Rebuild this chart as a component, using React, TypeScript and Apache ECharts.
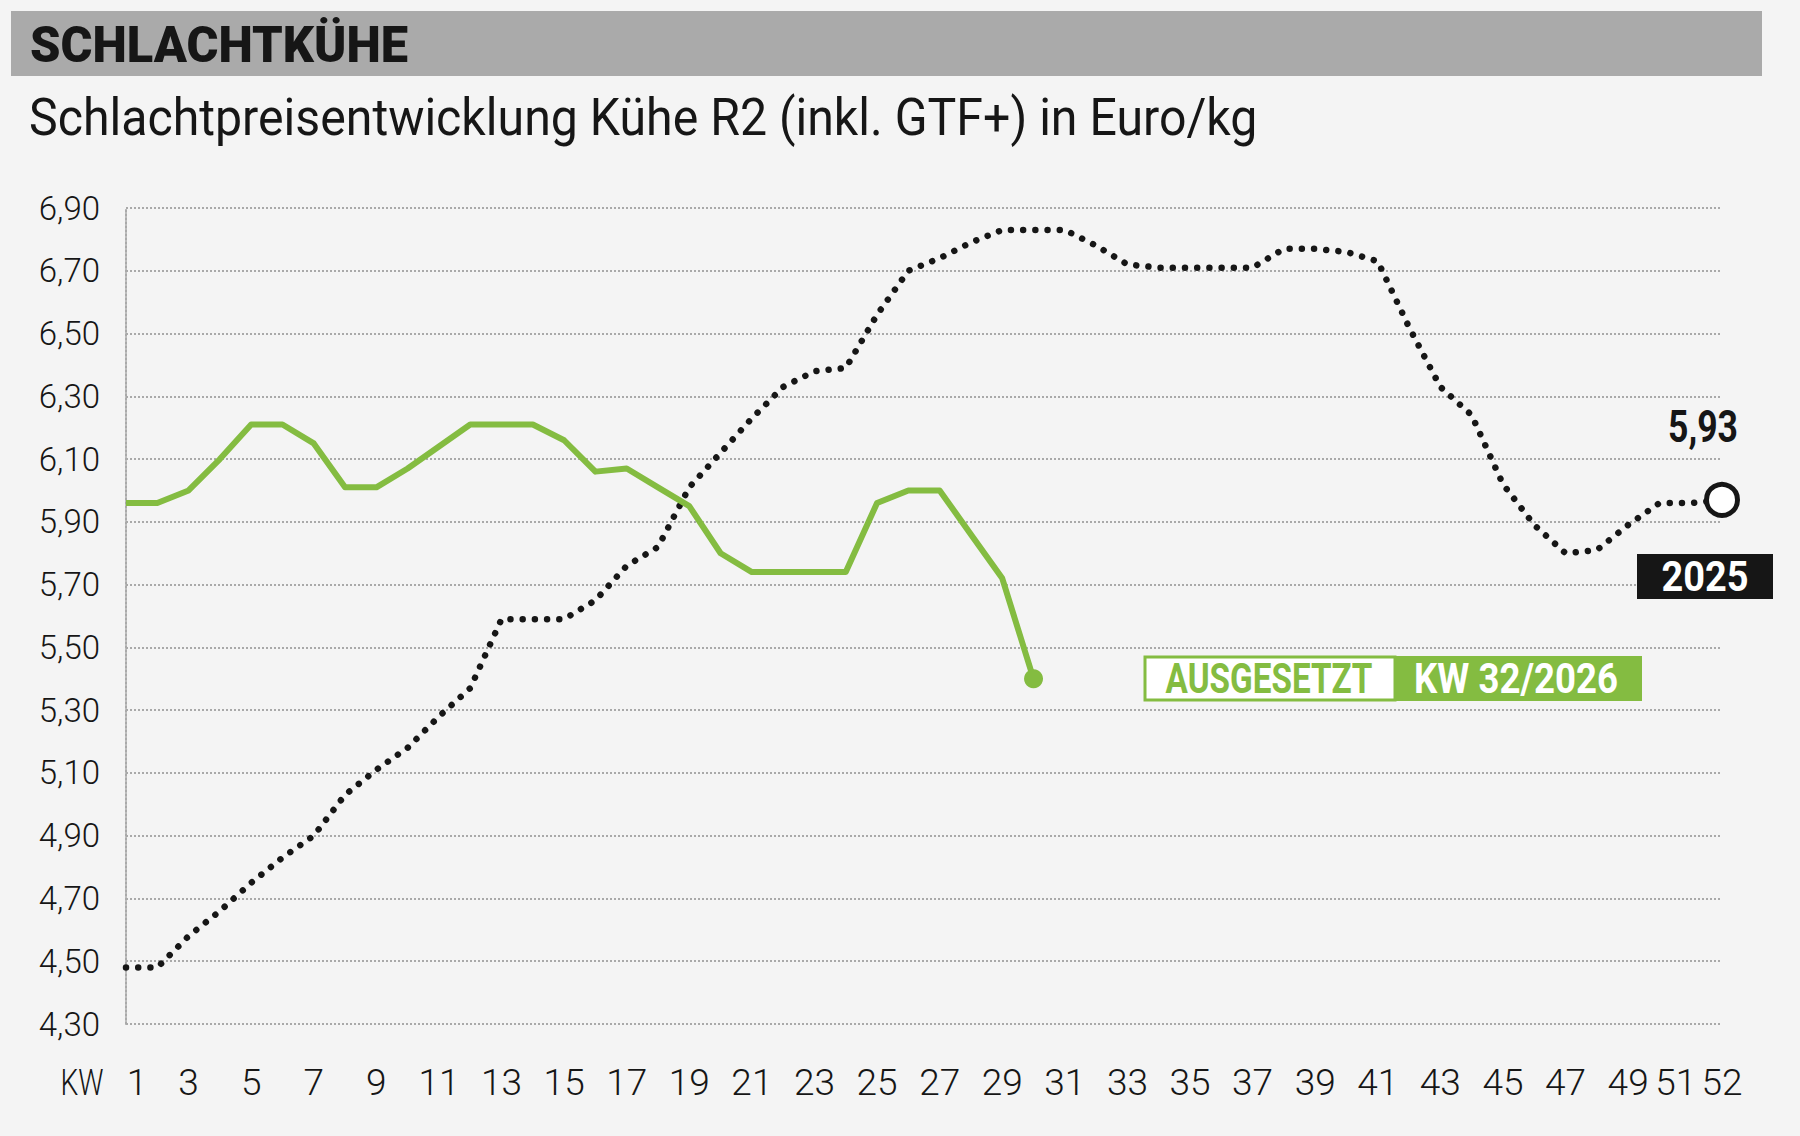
import React, { useEffect, useRef } from "react";
import * as echarts from "echarts";

// ---------- data ----------
const weeks = [
  "1", "2", "3", "4", "5", "6", "7", "8", "9", "10", "11", "12", "13",
  "14", "15", "16", "17", "18", "19", "20", "21", "22", "23", "24", "25", "26",
  "27", "28", "29", "30", "31", "32", "33", "34", "35", "36", "37", "38", "39",
  "40", "41", "42", "43", "44", "45", "46", "47", "48", "49", "50", "51", "52",
];
const xTickLabels = [
  "1", "3", "5", "7", "9", "11", "13", "15", "17", "19", "21", "23", "25",
  "27", "29", "31", "33", "35", "37", "39", "41", "43", "45", "47", "49", "51", "52",
];
// Schlachtpreis Kühe R2 2025 (dotted)
const prices2025 = [
  4.48, 4.48, 4.58, 4.66, 4.75, 4.83, 4.9, 5.03, 5.11, 5.18, 5.28, 5.37, 5.59,
  5.59, 5.59, 5.65, 5.76, 5.82, 6.01, 6.12, 6.23, 6.33, 6.38, 6.39, 6.56, 6.7,
  6.74, 6.79, 6.83, 6.83, 6.83, 6.78, 6.72, 6.71, 6.71, 6.71, 6.71, 6.77, 6.77,
  6.76, 6.73, 6.52, 6.33, 6.24, 6.02, 5.89, 5.8, 5.81, 5.89, 5.96, 5.96, 5.97,
];
// Schlachtpreis Kühe R2 2026 (green)
const prices2026 = [
  5.96, 5.96, 6.0, 6.1, 6.21, 6.21, 6.15, 6.01, 6.01, 6.07, 6.14, 6.21, 6.21,
  6.21, 6.16, 6.06, 6.07, 6.01, 5.95, 5.8, 5.74, 5.74, 5.74, 5.74, 5.96, 6.0,
  6.0, 5.86, 5.72, 5.4,
];
const yMin = 4.3;
const yMax = 6.9;
const yStep = 0.2;

const headerText = "SCHLACHTKÜHE";
const titleText = "Schlachtpreisentwicklung Kühe R2 (inkl. GTF+) in Euro/kg";
const lastValueText = "5,93";
const yearText = "2025";
const suspendedText = "AUSGESETZT";
const suspendedWeekText = "KW 32/2026";
const xAxisTitle = "KW";

// ---------- style ----------
const GREEN = "#84bc41";
const INK = "#161616";
const BG = "#f4f4f4";
const GRIDGRAY = "#a9a9a9";
const FONT = "Roboto, 'Noto Sans', 'DejaVu Sans', sans-serif";
const XFS = 37;

function measure(text: string, font: string): number {
  const ctx = document.createElement("canvas").getContext("2d");
  if (!ctx) return text.length * 20;
  ctx.font = font;
  return ctx.measureText(text).width;
}

function fitText(
  text: string,
  cx: number,
  cy: number,
  width: number,
  fontSize: number,
  fontWeight: string,
  fill: string,
  align: "left" | "center" = "center"
) {
  const w = measure(text, `${fontWeight} ${fontSize}px Roboto`);
  const s = width / w;
  return {
    type: "text",
    x: cx,
    y: cy,
    scaleX: s,
    z: 20,
    style: {
      text,
      fill,
      fontSize,
      fontWeight,
      fontFamily: FONT,
      align,
      verticalAlign: "middle",
    },
  };
}

const labelRich = (padding: number[]) => ({
  fontSize: XFS,
  fontWeight: 300,
  fontFamily: FONT,
  color: INK,
  padding,
});

export default function App() {
  const ref = useRef<HTMLDivElement>(null);

  useEffect(() => {
    document.body.style.margin = "0";
    if (!ref.current) return;
    const chart = echarts.init(ref.current, undefined, { renderer: "svg" });

    const last25 = prices2025.length - 1;
    const last26 = prices2026.length - 1;

    const option: any = {
      animation: false,
      backgroundColor: BG,
      grid: { left: 126, right: 78, top: 208, bottom: 112 },
      xAxis: {
        type: "category",
        data: weeks,
        boundaryGap: false,
        axisLine: { show: false },
        axisTick: { show: false },
        splitLine: { show: false },
        axisLabel: {
          interval: (_i: number, v: string) => xTickLabels.includes(v),
          margin: 40,
          fontSize: XFS,
          fontWeight: 300,
          fontFamily: FONT,
          color: INK,
          formatter: (v: string) => {
            if (v === "1") return `{f|${v}}`;
            if (v === "51") return `{l|${v}}`;
            return v;
          },
          rich: {
            f: labelRich([0, 0, 0, 22]),
            l: labelRich([0, 30, 0, 0]),
          },
        },
      },
      yAxis: {
        type: "value",
        min: yMin,
        max: yMax,
        interval: yStep,
        axisLine: { show: true, lineStyle: { color: GRIDGRAY, width: 2, type: "dotted" } },
        axisTick: { show: false },
        splitLine: { show: true, lineStyle: { color: GRIDGRAY, width: 2, type: "dotted" } },
        axisLabel: {
          margin: 26,
          fontSize: 33,
          fontWeight: 300,
          fontFamily: FONT,
          color: INK,
          formatter: (v: number) => v.toFixed(2).replace(".", ","),
        },
      },
      series: [
        {
          name: "2025",
          type: "line",
          data: prices2025,
          symbol: "none",
          silent: true,
          z: 2,
          lineStyle: { color: INK, width: 6.5, type: [0.01, 12.2], cap: "round", join: "round" },
        },
        {
          name: "2026",
          type: "line",
          data: prices2026,
          symbol: "none",
          silent: true,
          z: 3,
          lineStyle: { color: GREEN, width: 6, join: "round" },
        },
        {
          type: "scatter",
          silent: true,
          z: 4,
          data: [[weeks[last25], prices2025[last25]]],
          symbolSize: 31,
          itemStyle: { color: "#ffffff", borderColor: INK, borderWidth: 5, opacity: 1 },
        },
        {
          type: "scatter",
          silent: true,
          z: 4,
          data: [[weeks[last26], prices2026[last26]]],
          symbolSize: 19,
          itemStyle: { color: GREEN, opacity: 1 },
        },
      ],
      graphic: [
        {
          type: "rect",
          shape: { x: 11, y: 11, width: 1751, height: 65 },
          style: { fill: "#aaaaaa" },
          z: 10,
        },
        fitText(headerText, 30, 45, 378, 50, "900", INK, "left"),
        fitText(titleText, 29, 118, 1229, 51, "normal", INK, "left"),
        fitText(xAxisTitle, 82, 1083, 43, XFS, "300", INK),
        fitText(lastValueText, 1703, 426, 70, 45, "bold", INK),
        {
          type: "rect",
          shape: { x: 1637, y: 554, width: 136, height: 45 },
          style: { fill: INK },
          z: 10,
        },
        fitText(yearText, 1705, 577, 87, 42, "bold", "#ffffff"),
        {
          type: "rect",
          shape: { x: 1145, y: 657, width: 250, height: 43 },
          style: { fill: "#ffffff", stroke: GREEN, lineWidth: 3 },
          z: 10,
        },
        fitText(suspendedText, 1269, 678, 207, 43, "bold", GREEN),
        {
          type: "rect",
          shape: { x: 1395, y: 656, width: 247, height: 45 },
          style: { fill: GREEN },
          z: 10,
        },
        fitText(suspendedWeekText, 1516, 678, 204, 43, "bold", "#ffffff"),
      ],
    };

    chart.setOption(option);
    return () => chart.dispose();
  }, []);

  return <div ref={ref} style={{ width: 1800, height: 1136, background: BG }} />;
}
